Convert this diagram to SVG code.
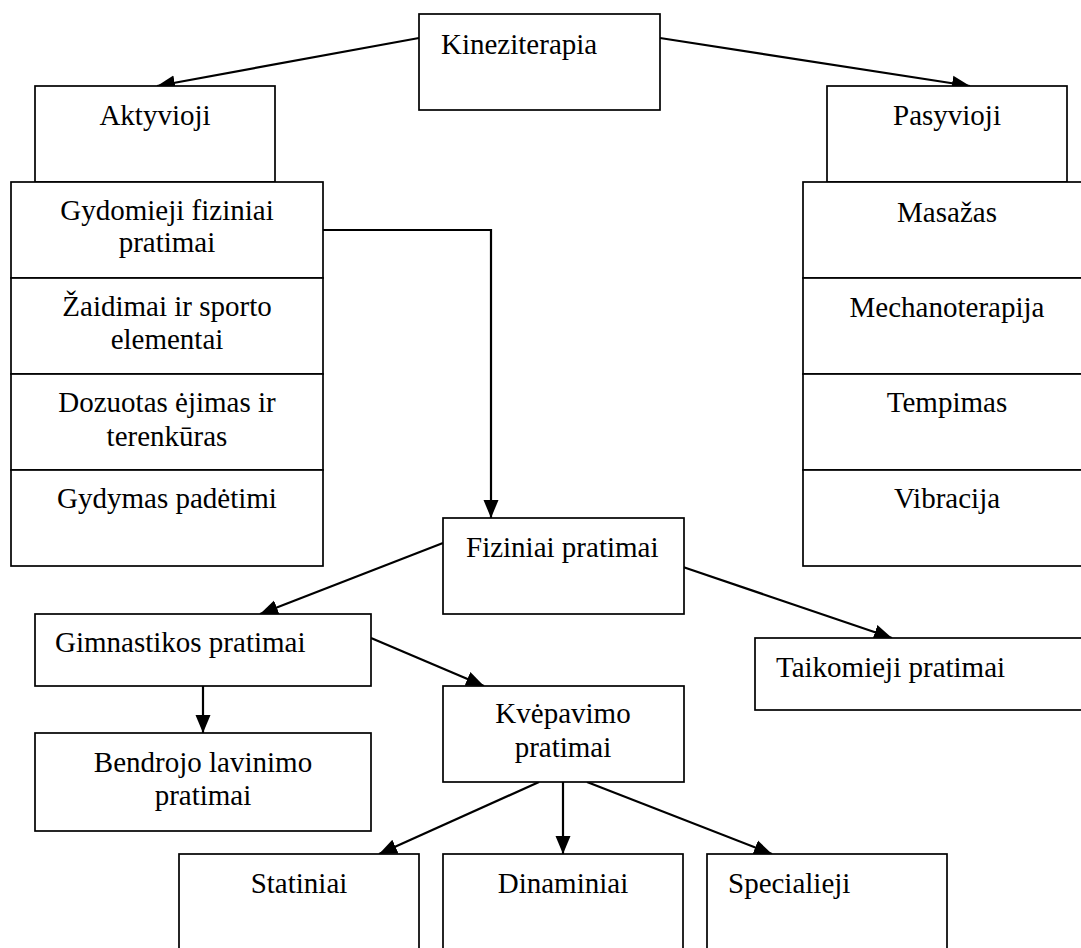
<svg xmlns="http://www.w3.org/2000/svg" width="1081" height="948" viewBox="0 0 1081 948">
<style>
.box{fill:#fff;stroke:#000;stroke-width:1.7}
.t{font-family:"Liberation Serif","Times New Roman",serif;font-size:29px;fill:#000}
.c{text-anchor:middle}
.ln{fill:none;stroke:#000;stroke-width:2.2}
</style>
<defs>
<marker id="ah" markerUnits="userSpaceOnUse" markerWidth="18" markerHeight="16" refX="18" refY="8" orient="auto">
<path d="M0,0.5 L18,8 L0,15.5 z" fill="#000"/>
</marker>
</defs>
<rect width="1081" height="948" fill="#fff"/>
<g id="connectors">
<line class="ln" x1="419" y1="38" x2="157" y2="86" marker-end="url(#ah)"/>
<line class="ln" x1="660" y1="38" x2="970" y2="86" marker-end="url(#ah)"/>
<polyline class="ln" points="323,230 491,230 491,518" marker-end="url(#ah)"/>
<line class="ln" x1="443" y1="543" x2="260" y2="614" marker-end="url(#ah)"/>
<line class="ln" x1="683" y1="567" x2="892" y2="638" marker-end="url(#ah)"/>
<line class="ln" x1="371" y1="638" x2="484" y2="686" marker-end="url(#ah)"/>
<line class="ln" x1="203" y1="686" x2="203" y2="733" marker-end="url(#ah)"/>
<line class="ln" x1="539" y1="782" x2="379" y2="854" marker-end="url(#ah)"/>
<line class="ln" x1="563" y1="782" x2="563" y2="854" marker-end="url(#ah)"/>
<line class="ln" x1="587" y1="782" x2="772" y2="854" marker-end="url(#ah)"/>
</g>
<g id="kineziterapia">
<rect class="box" x="419" y="14" width="241" height="96"/>
<text class="t" x="441" y="54">Kineziterapia</text>
</g>
<g id="aktyvioji">
<rect class="box" x="35" y="86" width="240" height="96"/>
<text class="t c" x="155" y="125">Aktyvioji</text>
</g>
<g id="pasyvioji">
<rect class="box" x="827" y="86" width="240" height="96"/>
<text class="t c" x="947" y="125">Pasyvioji</text>
</g>
<g id="gydomieji">
<rect class="box" x="11" y="182" width="312" height="96"/>
<text class="t c" x="167" y="220">Gydomieji fiziniai</text>
<text class="t c" x="167" y="252">pratimai</text>
</g>
<g id="zaidimai">
<rect class="box" x="11" y="278" width="312" height="96"/>
<text class="t c" x="167" y="316">Žaidimai ir sporto</text>
<text class="t c" x="167" y="349">elementai</text>
</g>
<g id="dozuotas">
<rect class="box" x="11" y="374" width="312" height="96"/>
<text class="t c" x="167" y="412">Dozuotas ėjimas ir</text>
<text class="t c" x="167" y="446">terenkūras</text>
</g>
<g id="gydymas">
<rect class="box" x="11" y="470" width="312" height="96"/>
<text class="t c" x="167" y="508">Gydymas padėtimi</text>
</g>
<g id="masazas">
<rect class="box" x="803" y="182" width="290" height="96"/>
<text class="t c" x="947" y="222">Masažas</text>
</g>
<g id="mechanoterapija">
<rect class="box" x="803" y="278" width="290" height="96"/>
<text class="t c" x="947" y="317">Mechanoterapija</text>
</g>
<g id="tempimas">
<rect class="box" x="803" y="374" width="290" height="96"/>
<text class="t c" x="947" y="412">Tempimas</text>
</g>
<g id="vibracija">
<rect class="box" x="803" y="470" width="290" height="96"/>
<text class="t c" x="947" y="508">Vibracija</text>
</g>
<g id="fiziniai">
<rect class="box" x="443" y="518" width="241" height="96"/>
<text class="t" x="466" y="557">Fiziniai pratimai</text>
</g>
<g id="gimnastikos">
<rect class="box" x="35" y="614" width="336" height="72"/>
<text class="t" x="55" y="652">Gimnastikos pratimai</text>
</g>
<g id="taikomieji">
<rect class="box" x="755" y="638" width="340" height="72"/>
<text class="t" x="776" y="677">Taikomieji pratimai</text>
</g>
<g id="bendrojo">
<rect class="box" x="35" y="733" width="336" height="98"/>
<text class="t c" x="203" y="772">Bendrojo lavinimo</text>
<text class="t c" x="203" y="805">pratimai</text>
</g>
<g id="kvepavimo">
<rect class="box" x="443" y="686" width="241" height="96"/>
<text class="t c" x="563" y="723">Kvėpavimo</text>
<text class="t c" x="563" y="757">pratimai</text>
</g>
<g id="statiniai">
<rect class="box" x="179" y="854" width="240" height="110"/>
<text class="t c" x="299" y="893">Statiniai</text>
</g>
<g id="dinaminiai">
<rect class="box" x="443" y="854" width="240" height="110"/>
<text class="t c" x="563" y="893">Dinaminiai</text>
</g>
<g id="specialieji">
<rect class="box" x="707" y="854" width="240" height="110"/>
<text class="t" x="728" y="893">Specialieji</text>
</g>
</svg>
